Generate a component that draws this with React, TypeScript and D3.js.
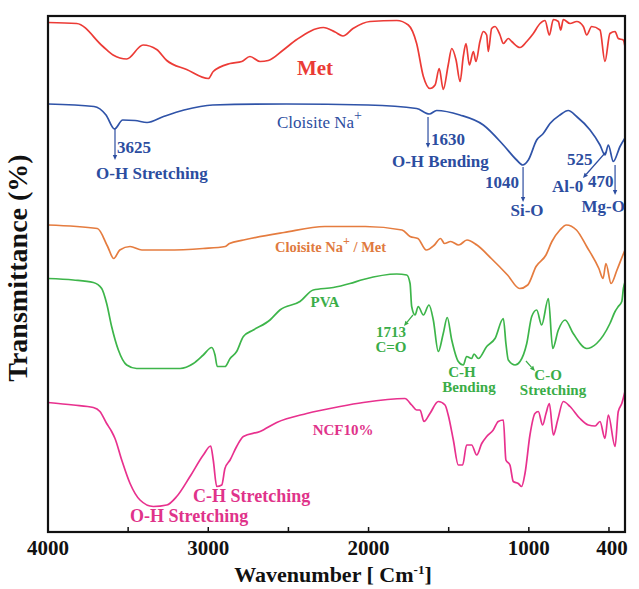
import React from "react";
import * as d3 from "d3";

const width = 639;
const height = 589;

// [wavenumber, transmittance (offset, a.u.)]
const met = [
  [4000, 101.9], [3821, 101.7], [3657, 97.1], [3594, 95.4], [3509, 94.6], [3407, 97.4],
  [3322, 96.5], [3259, 94.3], [3135, 92.5], [3000, 90.7], [2969, 92.1], [2864, 93.7],
  [2791, 94.1], [2740, 95.1], [2677, 94.1], [2626, 94.3], [2532, 96.4], [2448, 98.5],
  [2282, 100.9], [2209, 100], [2160, 99.2], [2097, 100.7], [1991, 102.1], [1824, 102.3],
  [1752, 101.4], [1700, 97.7], [1658, 91.1], [1617, 88.7], [1585, 89.4], [1559, 92.7],
  [1534, 88.5], [1503, 93.4], [1481, 96.7], [1454, 94.4], [1429, 90.1], [1409, 95.1],
  [1392, 97.7], [1371, 93.4], [1346, 96.1], [1330, 94.1], [1305, 98.1], [1284, 100.1],
  [1263, 99.4], [1253, 96.1], [1232, 100.7], [1211, 101.1], [1180, 99.4], [1159, 97.7],
  [1128, 98.7], [1107, 98.1], [1055, 96.9], [1013, 98.1], [972, 99.7], [930, 101.7],
  [899, 102.3], [872, 99.4], [847, 102.5], [816, 102.1], [801, 100.4], [785, 102.5],
  [743, 101.7], [701, 102.1], [660, 101.1], [639, 99.4], [608, 101.1], [556, 100.4],
  [525, 94.1], [494, 99.7], [462, 100.1], [442, 98.7], [411, 98.4], [400, 97.1],
];

const cloisite = [
  [4000, 85.6], [3713, 85.1], [3638, 83.4], [3585, 80.6], [3534, 82.4], [3457, 82.3],
  [3382, 81.9], [3279, 83.1], [3151, 84.4], [2972, 85.4], [2515, 85.6], [2003, 85.4],
  [1700, 84.7], [1621, 83.6], [1575, 84.3], [1430, 83.4], [1284, 81.4], [1159, 77.4],
  [1076, 74.4], [1038, 73.4], [1003, 74.4], [951, 78.4], [910, 79.7], [868, 81.7],
  [806, 83.4], [754, 84.3], [702, 83.1], [618, 80.4], [556, 77.4], [525, 75.4],
  [504, 77.4], [473, 74.1], [431, 77.1], [400, 78.8],
];

const cloisiteMet = [
  [4000, 61.4], [3692, 60.7], [3628, 57.1], [3590, 54.7], [3552, 56.4], [3488, 57.1],
  [3414, 56.4], [3261, 56.4], [3033, 56.7], [2894, 57.1], [2868, 57.7], [2780, 58.4],
  [2528, 59.9], [2273, 61.1], [2020, 61.1], [1791, 60.4], [1741, 59.1], [1692, 58.7],
  [1640, 56.4], [1589, 57.4], [1551, 58.7], [1526, 57.7], [1488, 58.1], [1437, 57.4],
  [1386, 58.4], [1324, 57.4], [1234, 54.7], [1133, 51.4], [1057, 48.7], [1007, 49.4],
  [955, 53.1], [893, 55.4], [856, 58.1], [806, 60.4], [766, 61.4], [703, 60.4],
  [639, 57.1], [563, 52.7], [537, 50.7], [519, 53.7], [487, 49.7], [450, 52.4],
  [413, 55.4], [400, 56.4],
];

const pva = [
  [4000, 50.7], [3842, 50.4], [3717, 49.9], [3665, 48.7], [3634, 45.7], [3603, 41.1],
  [3561, 36.4], [3509, 33.4], [3447, 32.7], [3176, 32.7], [3093, 33.7], [3031, 35.4],
  [2979, 36.9], [2958, 35.4], [2944, 33.1], [2896, 33.1], [2864, 34.7], [2823, 36.1],
  [2781, 39.1], [2719, 40.4], [2615, 42.4], [2553, 44.4], [2428, 46.1], [2345, 48.4],
  [2220, 48.9], [2116, 49.7], [2033, 50.5], [1824, 51.6], [1762, 51.4], [1741, 49.7],
  [1731, 45.1], [1710, 43.4], [1690, 45.1], [1658, 43.4], [1623, 45.4], [1596, 42.4],
  [1565, 36.1], [1534, 39.7], [1509, 42.9], [1481, 38.4], [1440, 34.1], [1409, 33.4],
  [1388, 35.1], [1357, 34.7], [1342, 35.6], [1315, 34.7], [1263, 37.1], [1211, 38.7],
  [1159, 42.7], [1143, 37.7], [1128, 34.4], [1086, 33.4], [1055, 34.1], [1013, 37.7],
  [982, 43.1], [951, 44.4], [920, 41.4], [878, 46.7], [851, 36.7], [816, 40.4],
  [774, 42.4], [723, 39.7], [639, 36.7], [577, 37.7], [494, 41.7], [462, 44.1],
  [442, 45.1], [420, 46.1], [410, 48.7], [400, 50],
];

const ncf10 = [
  [4000, 25.9], [3842, 25.4], [3717, 24.9], [3676, 24.1], [3634, 21.7], [3603, 20.1],
  [3582, 18.7], [3540, 14.4], [3488, 9.7], [3426, 6.4], [3343, 5.1], [3259, 5.4],
  [3197, 7.1], [3114, 11.1], [3031, 15.4], [2985, 17.2], [2969, 14.4], [2947, 9.1],
  [2916, 9.4], [2896, 12.7], [2864, 14.4], [2823, 17.1], [2781, 19.1], [2677, 20.1],
  [2573, 21.9], [2386, 23.7], [2178, 25.1], [2033, 25.9], [1773, 26.7], [1731, 25.4],
  [1700, 24.4], [1679, 24.4], [1654, 22.1], [1617, 23.7], [1565, 26.1], [1523, 25.4],
  [1503, 23.4], [1471, 18.4], [1440, 13.4], [1413, 13.4], [1388, 17.4], [1357, 17.4],
  [1325, 15.4], [1294, 17.7], [1263, 19.1], [1222, 20.4], [1191, 22.1], [1159, 22.4],
  [1143, 14.4], [1118, 13.4], [1097, 10.1], [1066, 9.7], [1045, 9.1], [1024, 11.7],
  [993, 19.4], [962, 23.7], [941, 24.1], [914, 21.4], [893, 23.7], [872, 25.7],
  [847, 19.4], [820, 22.4], [785, 26.1], [743, 25.1], [681, 22.7], [629, 21.4],
  [587, 21.2], [556, 22.1], [525, 18.7], [504, 23.4], [462, 17.1], [442, 24.1],
  [420, 25.7], [400, 28.1],
];

const series = [
  { name: "Met", data: met, color: "#ec3b36" },
  { name: "Cloisite", data: cloisite, color: "#2f53a8" },
  { name: "CloisiteMet", data: cloisiteMet, color: "#e57c3f" },
  { name: "PVA", data: pva, color: "#3db54a" },
  { name: "NCF10", data: ncf10, color: "#e8318e" },
];

const xTicks = [4000, 3500, 3000, 2500, 2000, 1500, 1000, 500];
const xTickLabels = [4000, 3000, 2000, 1000, 400];

// labels: text, wavenumber, transmittance, anchor, size, color
const labels = [
  { t: "Met", wn: 2334, v: 91.4, a: "middle", s: 21, c: "#ea3b36" },
  { t: "3625", wn: 3570, v: 75.8, a: "start", s: 17, c: "#2c4da0" },
  { t: "O-H Stretching", wn: 3700, v: 70.6, a: "start", s: 17, c: "#2c4da0" },
  { t: "1630", wn: 1610, v: 77.4, a: "start", s: 17, c: "#2c4da0" },
  { t: "O-H Bending", wn: 1854, v: 73, a: "start", s: 17, c: "#2c4da0" },
  { t: "1040", wn: 1061, v: 68.8, a: "end", s: 17, c: "#2c4da0" },
  { t: "Si-O", wn: 1011, v: 63.2, a: "middle", s: 17, c: "#2c4da0" },
  { t: "525", wn: 762, v: 73.4, a: "start", s: 17, c: "#2c4da0" },
  { t: "Al-0", wn: 855, v: 68, a: "start", s: 17, c: "#2c4da0" },
  { t: "470", wn: 631, v: 69, a: "start", s: 17, c: "#2c4da0" },
  { t: "Mg-O", wn: 400, v: 64, a: "end", s: 17, c: "#2c4da0" },
  { t: "PVA", wn: 2272, v: 45, a: "middle", s: 15, c: "#3aad48" },
  { t: "1713", wn: 1860, v: 39.0, a: "middle", s: 15, c: "#3aad48" },
  { t: "C=O", wn: 1860, v: 36.1, a: "middle", s: 15, c: "#3aad48" },
  { t: "C-H", wn: 1417, v: 31.0, a: "middle", s: 15, c: "#3aad48" },
  { t: "Bending", wn: 1373, v: 28.1, a: "middle", s: 15, c: "#3aad48" },
  { t: "C-O", wn: 880, v: 30.4, a: "middle", s: 15, c: "#3aad48" },
  { t: "Stretching", wn: 849, v: 27.5, a: "middle", s: 15, c: "#3aad48" },
  { t: "NCF10%", wn: 2159, v: 19.4, a: "middle", s: 15, c: "#e0338a" },
  { t: "C-H Stretching", wn: 3095, v: 6, a: "start", s: 18, c: "#e0338a" },
  { t: "O-H Stretching", wn: 3488, v: 2, a: "start", s: 18, c: "#e0338a" },
];

// arrows from curve to label
const arrows = [
  { w1: 3582, v1: 80.8, w2: 3582, v2: 74.4, c: "#2c4da0" },
  { w1: 1629, v1: 83, w2: 1629, v2: 76.8, c: "#2c4da0" },
  { w1: 1036, v1: 73, w2: 1036, v2: 66, c: "#2c4da0" },
  { w1: 519, v1: 76, w2: 662, v2: 70.8, c: "#2c4da0" },
  { w1: 462, v1: 73.4, w2: 462, v2: 67.4, c: "#2c4da0" },
  { w1: 1723, v1: 43.4, w2: 1779, v2: 41.2, c: "#3aad48" },
  { w1: 1018, v1: 34.2, w2: 962, v2: 32.2, c: "#3aad48" },
];

const x = d3.scaleLinear().domain([4000, 400]).range([48, 625]);
const y = d3.scaleLinear().domain([0, 103.2]).range([532, 16]);

const line = d3.line()
  .x(d => x(d[0]))
  .y(d => y(d[1]))
  .curve(d3.curveMonotoneX);

const font = "'Liberation Serif', 'Times New Roman', serif";

function Arrow({ a }) {
  const x1 = x(a.w1), y1 = y(a.v1), x2 = x(a.w2), y2 = y(a.v2);
  const ang = Math.atan2(y2 - y1, x2 - x1);
  const L = 5, W = 2.2;
  const bx = x2 - L * Math.cos(ang), by = y2 - L * Math.sin(ang);
  const p = [
    [x2, y2],
    [bx + W * Math.sin(ang), by - W * Math.cos(ang)],
    [bx - W * Math.sin(ang), by + W * Math.cos(ang)],
  ];
  return (
    <g>
      <line x1={x1} y1={y1} x2={bx} y2={by} stroke={a.c} strokeWidth={1.2} />
      <polygon points={p.map(q => q.join(",")).join(" ")} fill={a.c} />
    </g>
  );
}

export default function App() {
  return (
    <div style={{ position: "fixed", left: 0, top: 0 }}>
      <svg width={width} height={height} style={{ display: "block", background: "#fff" }} fontFamily={font}>
        {series.map(s => (
          <path key={s.name} d={line(s.data)} fill="none" stroke={s.color}
            strokeWidth={1.7} strokeLinejoin="round" />
        ))}

        {/* frame */}
        <rect x={x(4000)} y={y(103.2)} width={x(400) - x(4000)} height={y(0) - y(103.2)}
          fill="none" stroke="#111" strokeWidth={2.2} />
        {xTicks.map(t => (
          <line key={t} x1={x(t)} x2={x(t)} y1={y(0)} y2={y(0) - 5} stroke="#111" strokeWidth={1.5} />
        ))}
        {xTickLabels.map(t => (
          <text key={t} x={t === 400 ? x(t) - 13 : x(t)} y={555} textAnchor="middle" fontSize={21}
            fontWeight="bold" fill="#111">{t}</text>
        ))}
        <text x={333} y={582} textAnchor="middle" fontSize={22} fontWeight="bold" fill="#111">
          Wavenumber [ Cm<tspan dy={-8} fontSize={13}>-1</tspan><tspan dy={8}>]</tspan>
        </text>
        <text transform="translate(27,268) rotate(-90)" textAnchor="middle" fontSize={28}
          fontWeight="bold" fill="#111">Transmittance (%)</text>

        {labels.map((l, i) => (
          <text key={i} x={x(l.wn)} y={y(l.v)} textAnchor={l.a} fontSize={l.s}
            fontWeight="bold" fill={l.c}>{l.t}</text>
        ))}

        <text x={x(2571)} y={y(80.8)} fontSize={17} fill="#2c4da0">
          Cloisite Na<tspan dy={-8} fontSize={14}>+</tspan>
        </text>
        <text x={x(2584)} y={y(56)} fontSize={14.5} fontWeight="bold" fill="#e07a40">
          Cloisite Na<tspan dy={-7} fontSize={12}>+</tspan><tspan dy={7}> / Met</tspan>
        </text>

        {arrows.map((a, i) => <Arrow key={i} a={a} />)}
      </svg>
    </div>
  );
}
